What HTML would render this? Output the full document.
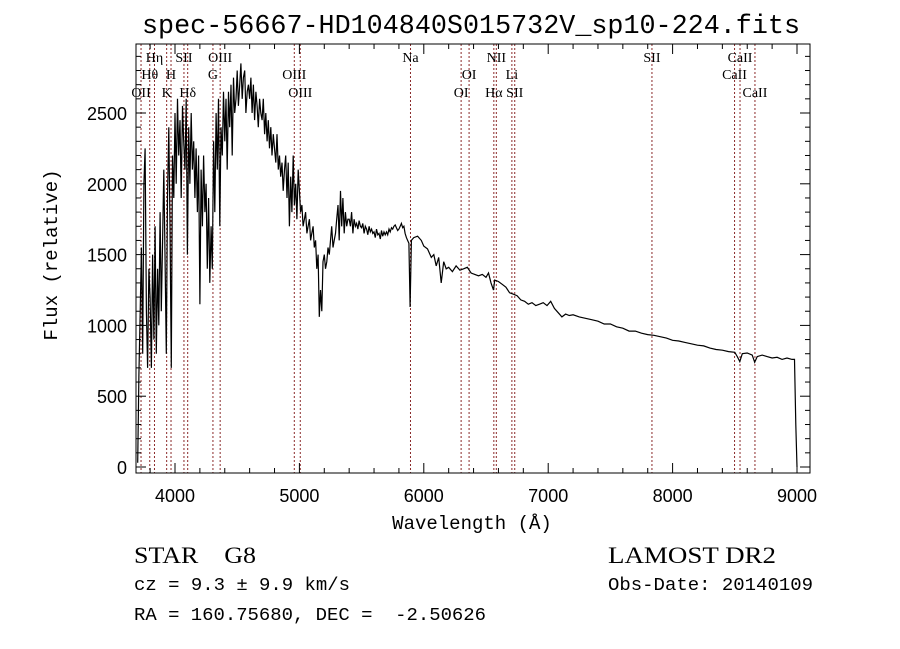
<!DOCTYPE html>
<html><head><meta charset="utf-8"><style>
html,body{margin:0;padding:0;background:#fff;}
svg{display:block;}
text{fill:#000;}
</style></head><body>
<svg id="chart" width="900" height="649" viewBox="0 0 900 649" xmlns="http://www.w3.org/2000/svg">
<rect x="0" y="0" width="900" height="649" fill="#fff"/>
<text x="471" y="33" text-anchor="middle" font-family="Liberation Mono, monospace" font-size="27" textLength="658" lengthAdjust="spacingAndGlyphs">spec-56667-HD104840S015732V_sp10-224.fits</text>
<g id="lines"></g>
<g id="labels"></g>
<path id="spec" fill="none" stroke="#000" stroke-width="1.2"/>
<rect x="136" y="44" width="674" height="429" fill="none" stroke="#000" stroke-width="1"/>
<g id="ticks"></g>
<text x="472" y="529" text-anchor="middle" font-family="Liberation Mono, monospace" font-size="19">Wavelength (Å)</text>
<text transform="translate(57,255) rotate(-90)" text-anchor="middle" font-family="Liberation Mono, monospace" font-size="19">Flux (relative)</text>
<text x="134" y="563" font-family="Liberation Serif, serif" font-size="23" textLength="122" lengthAdjust="spacingAndGlyphs">STAR&#160;&#160;&#160;&#160;G8</text>
<text x="608" y="563" font-family="Liberation Serif, serif" font-size="23" textLength="168" lengthAdjust="spacingAndGlyphs">LAMOST DR2</text>
<text x="134" y="590" font-family="Liberation Mono, monospace" font-size="18" textLength="216" lengthAdjust="spacingAndGlyphs">cz = 9.3 ± 9.9 km/s</text>
<text x="608" y="590" font-family="Liberation Mono, monospace" font-size="18" textLength="205" lengthAdjust="spacingAndGlyphs">Obs-Date: 20140109</text>
<text x="134" y="620" font-family="Liberation Mono, monospace" font-size="18" textLength="352" lengthAdjust="spacingAndGlyphs">RA = 160.75680, DEC = &#160;-2.50626</text>
</svg>
<script>
const blueStart = 3700;
const blueStep = 10;
const blueFlux = [
30,650,1100,1550,800,2000,2250,1100,700,1400,
1200,700,1500,900,1700,800,1400,1000,1800,1100,
1600,2100,1500,800,1900,2400,1700,700,2200,1900,
2500,2000,2600,2200,2450,1900,2550,2300,2100,2600,
1500,2400,2000,2500,2100,2300,1900,2250,1800,2200,
1150,2100,1700,2200,1800,2000,1400,1900,1300,1700,
1400,2300,1800,2500,2100,2600,1700,2400,2200,2650,
2300,2600,2100,2650,2400,2700,2200,2750,2500,2600,
2800,2550,2700,2850,2600,2750,2800,2500,2650,2700,
2600,2750,2500,2700,2450,2650,2550,2400,2600,2500,
2450,2600,2350,2500,2300,2450,2250,2400,2200,2350,
2250,2150,2350,2100,2200,2050,2150,1950,2100,2200,
1900,2150,1700,2050,1800,2200,1850,2000,1750,2100,
1950,1800,1850,1700,1750,1800,1650,1700,1750,1600,
1650,1700,1550,1600,1400,1500,1060,1250,1100,1450,
1500,1400,1450,1550,1500,1600,1700,1550,1600,1650,
1750,1850,1600,1950,1700,1900,1650,1800,1700,1750,
1750,1700,1800,1650,1750,1700,1720,1680,1740,1700,
1690,1720,1650,1700,1680,1640,1700,1660,1680,1650,
1660,1620,1680,1640,1650,1610,1670,1630,1660,1640,
1660,1640,1680,1660,1690,1680,1700,1710,1690,1670,
1680,1700,1720,1690,1700,1650,1620,1600,1580,1130
];
const redWave = [5900,5920,5950,5980,6000,6030,6060,6080,6100,6120,6140,6160,6180,6200,6230,6260,6290,6320,6350,6380,6410,6440,6470,6500,6520,6540,6560,6570,6600,6630,6660,6690,6720,6750,6780,6810,6840,6870,6900,6930,6960,6990,7020,7050,7080,7110,7140,7170,7200,7250,7300,7350,7400,7450,7500,7550,7600,7650,7700,7750,7800,7850,7900,7950,8000,8050,8100,8150,8200,8250,8300,8350,8400,8450,8500,8520,8540,8560,8600,8640,8660,8680,8720,8760,8800,8840,8880,8920,8960,8980,8990,9000];
const redFlux = [1600,1620,1630,1600,1560,1540,1480,1500,1420,1480,1300,1450,1400,1410,1380,1420,1390,1400,1410,1370,1360,1350,1360,1340,1370,1300,1250,1320,1310,1290,1270,1230,1220,1210,1180,1170,1150,1160,1140,1150,1160,1140,1170,1120,1090,1060,1080,1070,1075,1060,1050,1040,1030,1010,1010,990,980,960,960,945,935,930,920,910,895,890,880,870,860,855,840,830,825,815,810,780,745,800,805,790,740,780,790,780,770,775,760,770,760,760,300,0];
const lineWaves = [3727,3797,3835,3933,3968,4072,4102,4305,4363,4959,5007,5893,6300,6364,6563,6583,6708,6731,7834,8498,8542,8662];
const lineLabels = ["OII","Hθ","Hη","K","H","SII","Hδ","G","OIII","OIII","OIII","Na","OI","OI","Hα","NII","Li","SII","SII","CaII","CaII","CaII"];
const lineRows = [3,2,1,3,2,1,3,2,1,2,3,1,3,2,3,1,2,3,1,2,1,3];
const xTicks = [4000,5000,6000,7000,8000,9000];
const yTicks = [0,500,1000,1500,2000,2500];

const X0=136,X1=810,Y0=44,Y1=473;
function xs(w){return 175+(w-4000)*0.1244;}
function ys(f){return 467-f*0.1416;}
const NS="http://www.w3.org/2000/svg";
function mk(tag,attrs,parent){const e=document.createElementNS(NS,tag);for(const k in attrs)e.setAttribute(k,attrs[k]);parent.appendChild(e);return e;}

let pts=[];
blueFlux.forEach((f,i)=>pts.push([blueStart+i*blueStep,f]));
redWave.forEach((w,i)=>pts.push([w,redFlux[i]]));
let d="";
pts.forEach((p,i)=>{const x=xs(p[0]),y=ys(p[1]);d+=(i?"L":"M")+x.toFixed(1)+","+y.toFixed(1);});
document.getElementById('spec').setAttribute('d',d);

const lg=document.getElementById('lines'),lb=document.getElementById('labels');
const rowY={1:62,2:79,3:97};
lineWaves.forEach((w,i)=>{
  const l=mk('line',{x1:xs(w),x2:xs(w),y1:Y0,y2:Y1,stroke:'#8b2a2a','stroke-width':1,'stroke-dasharray':'2,2'},lg);
  
  
  const t=mk('text',{x:xs(w),y:rowY[lineRows[i]],'text-anchor':'middle','font-family':'Liberation Serif, serif','font-size':14},lb);
  t.textContent=lineLabels[i];
  
  
});

const tg=document.getElementById('ticks');
for(let w=3800;w<=9100;w+=200){
  const x=xs(w); if(x<X0||x>X1)continue;
  const major=(w%1000===0),L=major?10:5;
  mk('line',{x1:x,x2:x,y1:Y1,y2:Y1-L,stroke:'#000'},tg);
  mk('line',{x1:x,x2:x,y1:Y0,y2:Y0+L,stroke:'#000'},tg);
}
for(let f=0;f<=2900;f+=100){
  const y=ys(f); if(y<Y0||y>Y1)continue;
  const major=(f%500===0),L=major?10:5;
  mk('line',{x1:X0,x2:X0+L,y1:y,y2:y,stroke:'#000'},tg);
  mk('line',{x1:X1,x2:X1-L,y1:y,y2:y,stroke:'#000'},tg);
}
xTicks.forEach(v=>{
  const t=mk('text',{x:xs(v),y:502,'text-anchor':'middle','font-family':'Liberation Sans, sans-serif','font-size':18},tg);
  t.textContent=v;
  
  
});
yTicks.forEach(v=>{
  const t=mk('text',{x:127,y:ys(v)+7,'text-anchor':'end','font-family':'Liberation Sans, sans-serif','font-size':18},tg);
  t.textContent=v;
  
  
});
</script>
</body></html>
